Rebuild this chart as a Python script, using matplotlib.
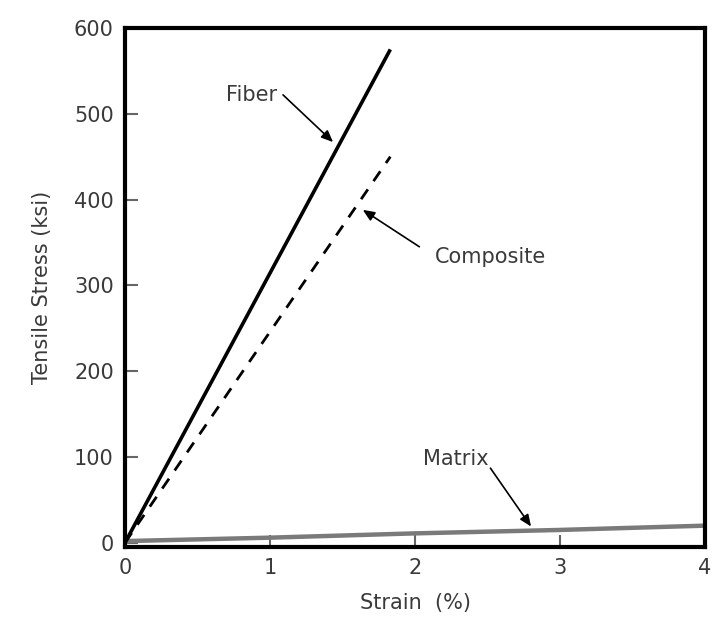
import matplotlib
matplotlib.use("Agg")
import matplotlib.pyplot as plt

# data
fiber_strain = [0.0, 1.83]
fiber_stress = [0, 575]
composite_strain = [0.0, 1.83]
composite_stress = [0, 450]
matrix_strain = [0, 1, 2, 3, 4]
matrix_stress = [2, 6, 11, 15, 20]

x_ticks = [0, 1, 2, 3, 4]
y_ticks = [0, 100, 200, 300, 400, 500, 600]

# label text position and arrow (tail, tip), in data units
labels = {
    "Fiber": ((0.87, 522), (1.09, 522), (1.435, 467)),
    "Composite": ((2.52, 333), (2.03, 345), (1.64, 388)),
    "Matrix": ((2.28, 98), (2.52, 87), (2.80, 19)),
}

text_color = "#3a3a3a"
plt.rcParams['font.family'] = ['DejaVu Sans']

fig = plt.figure(figsize=(7.18, 6.21), dpi=100)
ax = fig.add_axes([0.174, 0.119, 0.808, 0.836])

ax.plot(matrix_strain, matrix_stress, color="#7a7a7a", lw=3.2, solid_capstyle="butt", zorder=2)
ax.plot(fiber_strain, fiber_stress, color="black", lw=2.6, solid_capstyle="butt", zorder=3)
line, = ax.plot(composite_strain, composite_stress, color="black", lw=2, zorder=3)
line.set_dashes([4.3, 3.6])

for name, (pos, tail, tip) in labels.items():
    ax.text(pos[0], pos[1], name, fontsize=15, color=text_color, ha="center", va="center")
    ax.annotate("", xy=tip, xytext=tail,
                arrowprops=dict(arrowstyle="-|>,head_length=0.7,head_width=0.3",
                                color="black", lw=1.2, shrinkA=0, shrinkB=0))

ax.set_xlim(0, 4)
ax.set_ylim(-5, 600)
ax.set_xticks(x_ticks)
ax.set_yticks(y_ticks)
ax.tick_params(axis="both", direction="in", length=9, width=1.5, color="#666666",
               labelsize=15, labelcolor=text_color)
ax.tick_params(axis="y", pad=8)
ax.tick_params(axis="x", pad=8)

for sp in ax.spines.values():
    sp.set_linewidth(3)
    sp.set_color("black")
    sp.set_zorder(5)

ax.set_xlabel("Strain  (%)", fontsize=15, color=text_color, labelpad=11)
ax.set_ylabel("Tensile Stress (ksi)", fontsize=15, color=text_color, labelpad=16)

fig.savefig("out.png", dpi=100)
